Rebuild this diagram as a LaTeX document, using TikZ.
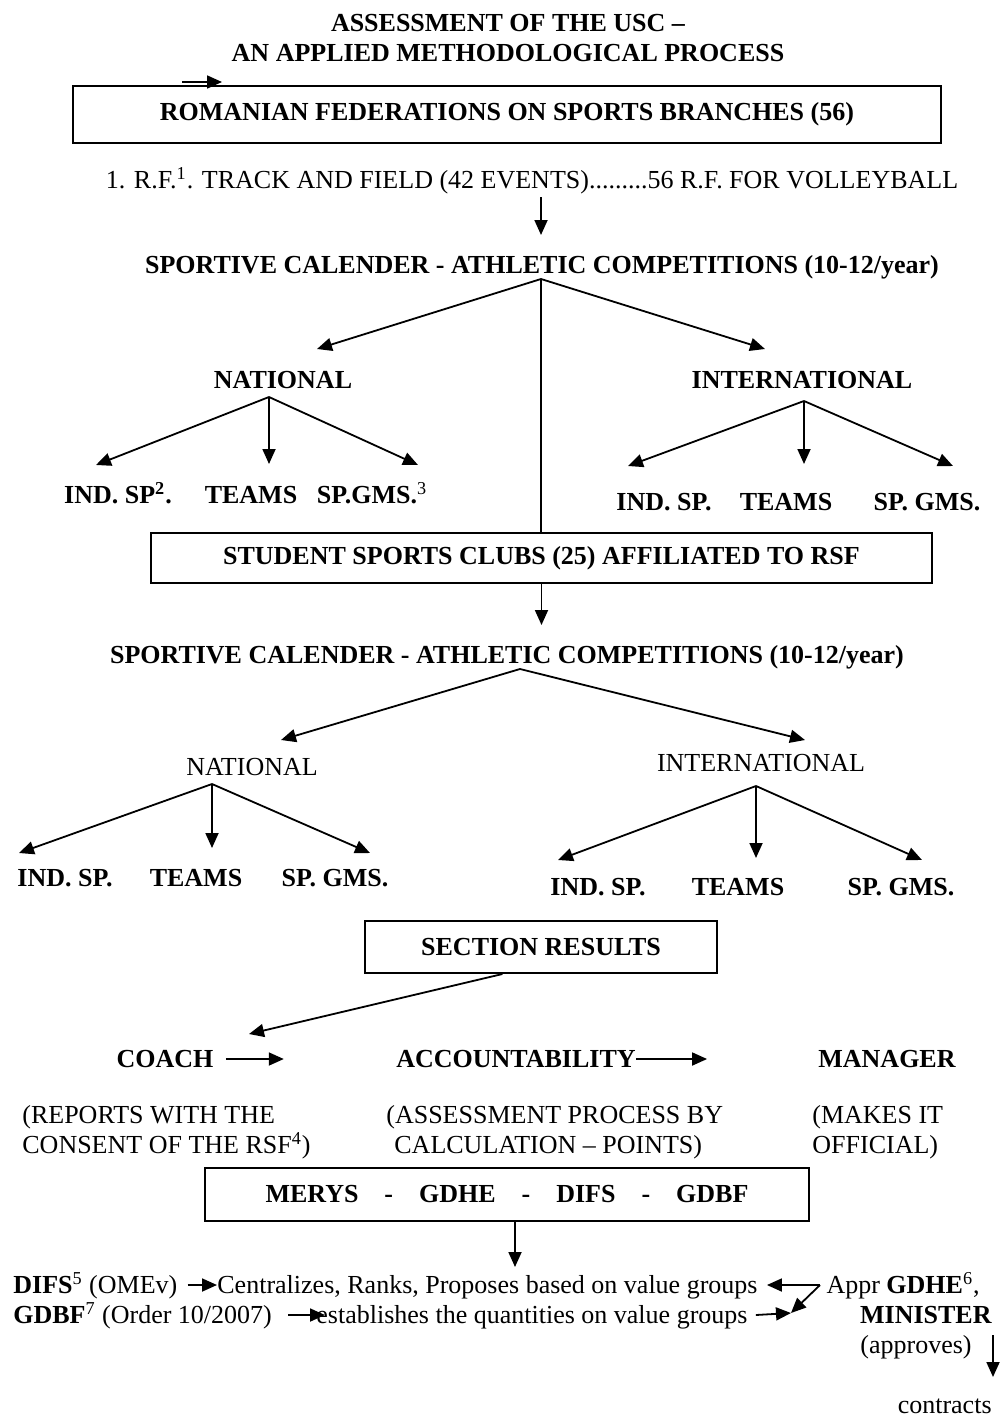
\documentclass[tikz,border=0pt]{standalone}
\usepackage{fontspec}
\setmainfont{Liberation Serif}
\usetikzlibrary{arrows.meta}
\newcommand{\basefont}{\fontsize{13}{15}\selectfont}
\tikzset{
  txt/.style={inner sep=0pt, font=\basefont, text height=9.6pt, text depth=1pt},
  btxt/.style={inner sep=0pt, font=\basefont\bfseries, text height=9.6pt, text depth=1pt},
  para/.style={inner sep=0pt, font=\basefont, align=left, anchor=west},
  box/.style={draw, line width=1pt, inner sep=0pt, font=\basefont\bfseries},
  arrow/.style={-{Triangle[length=7.5pt,width=6.5pt]}, line width=0.9pt},
  link/.style={line width=0.9pt}
}
\begin{document}
\begin{tikzpicture}[x=0.5pt, y=-0.5pt]
  \useasboundingbox (0,0) rectangle (1000,1418);
  \node[inner sep=0pt, font=\basefont\bfseries, align=center] (title) at (508,38) {ASSESSMENT OF THE USC --\\AN APPLIED METHODOLOGICAL PROCESS};
  \coordinate (s0) at (182,82); \coordinate (s1) at (222,82);
  \draw[arrow] (s0)--(s1);
  \node[box, minimum width=434pt, minimum height=28.5pt] (rf) at (507,114.5) {ROMANIAN FEDERATIONS ON SPORTS BRANCHES (56)};
  \node[txt] (rflist) at (532,180) {1. R.F.\textsuperscript{1}. TRACK AND FIELD (42 EVENTS).........56 R.F. FOR VOLLEYBALL};
  \coordinate (d1a) at (541,197); \coordinate (d1b) at (541,235);
  \draw[arrow] (d1a)--(d1b);
  % upper calendar
  \node[btxt] (cal1) at (542,265) {SPORTIVE CALENDER - ATHLETIC COMPETITIONS (10-12/year)};
  \coordinate (j1) at (541,279);
  \coordinate (t1) at (317,349); \coordinate (t2) at (765,349);
  \node[btxt] (nat1) at (283,380) {NATIONAL};
  \node[btxt] (int1) at (802,380) {INTERNATIONAL};
  \draw[arrow] (j1)--(t1); \draw[arrow] (j1)--(t2);
  \coordinate (j2) at (269,397);
  \coordinate (t3) at (96,465); \coordinate (t4) at (269,464); \coordinate (t5) at (418,465);
  \draw[arrow] (j2)--(t3); \draw[arrow] (j2)--(t4); \draw[arrow] (j2)--(t5);
  \coordinate (j3) at (804,401);
  \coordinate (t6) at (628,466); \coordinate (t7) at (804,464); \coordinate (t8) at (953,466);
  \draw[arrow] (j3)--(t6); \draw[arrow] (j3)--(t7); \draw[arrow] (j3)--(t8);
  \node[btxt] (ind1) at (118,495) {IND. SP\textsuperscript{2}.};
  \node[btxt] (team1) at (251,495) {TEAMS};
  \node[btxt] (game1) at (372,495) {SP.GMS.\textsuperscript{\mdseries 3}};
  \node[btxt] (ind2) at (664,502) {IND. SP.};
  \node[btxt] (team2) at (786,502) {TEAMS};
  \node[btxt] (game2) at (927,502) {SP. GMS.};
  \node[box, minimum width=390.5pt, minimum height=25pt] (ssc) at (541.5,558) {STUDENT SPORTS CLUBS (25) AFFILIATED TO RSF};
  \draw[link] (j1)--(j1 |- ssc.north);
  \coordinate (d2) at (541.5,625);
  \draw[arrow] (ssc.south)--(d2);
  % lower calendar
  \node[btxt] (cal2) at (507,655) {SPORTIVE CALENDER - ATHLETIC COMPETITIONS (10-12/year)};
  \coordinate (j4) at (520,669);
  \coordinate (t9) at (281,740); \coordinate (t10) at (805,740);
  \draw[arrow] (j4)--(t9); \draw[arrow] (j4)--(t10);
  \node[txt] (nat2) at (252,767) {NATIONAL};
  \node[txt] (int2) at (761,763) {INTERNATIONAL};
  \coordinate (j5) at (212,784);
  \coordinate (t11) at (19,853); \coordinate (t12) at (212,848); \coordinate (t13) at (370,853);
  \draw[arrow] (j5)--(t11); \draw[arrow] (j5)--(t12); \draw[arrow] (j5)--(t13);
  \coordinate (j6) at (756,786);
  \coordinate (t14) at (558,860); \coordinate (t15) at (756,858); \coordinate (t16) at (922,860);
  \draw[arrow] (j6)--(t14); \draw[arrow] (j6)--(t15); \draw[arrow] (j6)--(t16);
  \node[btxt] (ind3) at (65,878) {IND. SP.};
  \node[btxt] (team3) at (196,878) {TEAMS};
  \node[btxt] (game3) at (335,878) {SP. GMS.};
  \node[btxt] (ind4) at (598,887) {IND. SP.};
  \node[btxt] (team4) at (738,887) {TEAMS};
  \node[btxt] (game4) at (901,887) {SP. GMS.};
  % results
  \node[box, minimum width=176pt, minimum height=26pt] (res) at (541,947) {SECTION RESULTS};
  \coordinate (ctip) at (249,1034);
  \draw[arrow] (res.215)--(ctip);
  \node[btxt] (coach) at (165,1059) {COACH};
  \node[btxt] (acc) at (516,1059) {ACCOUNTABILITY};
  \node[btxt] (mgr) at (887,1059) {MANAGER};
  \draw[arrow] ([xshift=6pt]coach.east)--([xshift=35pt]coach.east);
  \draw[arrow] (acc.east)--([xshift=35.5pt]acc.east);
  \node[para] (rep) at (22,1132) {(REPORTS WITH THE\\CONSENT OF THE RSF\textsuperscript{4})};
  \node[para] (calc) at (386,1132) {(ASSESSMENT PROCESS BY\\\hspace{4pt}CALCULATION -- POINTS)};
  \node[para] (off) at (812,1132) {(MAKES IT\\OFFICIAL)};
  \node[box, minimum width=302pt, minimum height=26.5pt] (merys) at (507,1194.5) {MERYS\hspace{1em}-\hspace{1em}GDHE\hspace{1em}-\hspace{1em}DIFS\hspace{1em}-\hspace{1em}GDBF};
  \coordinate (d3) at (515,1267);
  \draw[arrow] ([xshift=4pt]merys.south)--(d3);
  % bottom lines
  \node[txt, anchor=west] (difs) at (13,1285) {\textbf{DIFS}\textsuperscript{5} (OMEv)};
  \node[txt, anchor=west] (centr) at (217,1285) {Centralizes, Ranks, Proposes based on value groups};
  \node[txt, anchor=west] (gdbf) at (13,1315) {\textbf{GDBF}\textsuperscript{7} (Order 10/2007)};
  \node[txt, anchor=west] (estab) at (316,1315) {establishes the quantities on value groups};
  \node[txt, anchor=east] (appr) at (980,1285) {Appr \textbf{GDHE}\textsuperscript{6},};
  \node[btxt, anchor=east] (minis) at (992,1315) {MINISTER};
  \node[txt, anchor=east] (aprv) at (972,1345) {(approves)};
  \node[txt, anchor=east] (contr) at (992,1405) {contracts};
  \coordinate (bend) at (820,1285); \coordinate (meet) at (791,1313);
  \draw[arrow] ([xshift=5pt]difs.east)--(centr.west);
  \draw[arrow] ([xshift=8pt]gdbf.east)--([xshift=4.5pt]estab.west);
  \draw[arrow] ([xshift=4pt]estab.east)--(meet);
  \draw[arrow] (bend)--([xshift=4.5pt]centr.east);
  \draw[arrow] (bend)--(meet);
  \coordinate (v1) at (993,1335); \coordinate (v2) at (993,1377);
  \draw[arrow] (v1)--(v2);
\end{tikzpicture}
\end{document}
